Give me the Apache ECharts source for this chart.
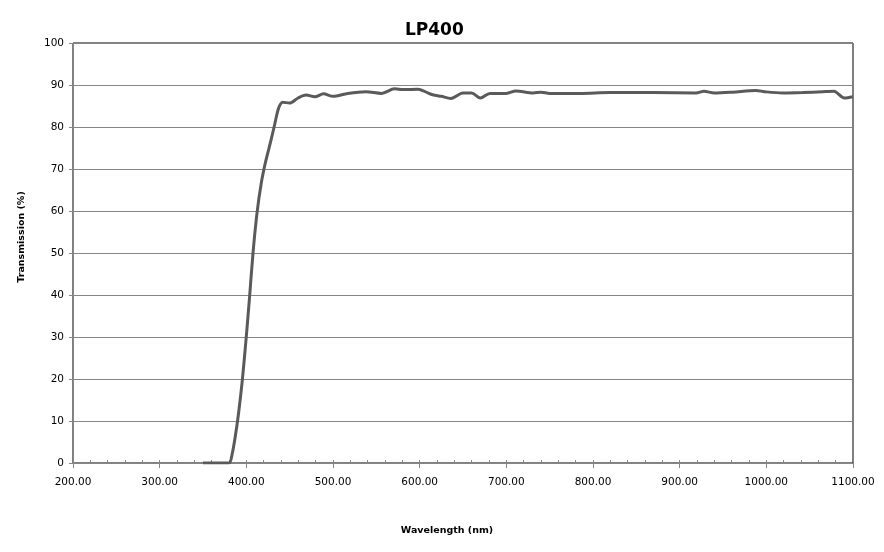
<!DOCTYPE html>
<html>
<head>
<meta charset="utf-8">
<script src="https://cdn.jsdelivr.net/npm/echarts@6/dist/echarts.min.js"></script>
<style>html,body{margin:0;padding:0;background:#fff;}#c{width:884px;height:552px;}</style>
</head>
<body>
<div id="c"></div>
<script>
const chartTitle = 'LP400';
const xAxisName = 'Wavelength (nm)';
const yAxisName = 'Transmission (%)';
const wavelength = [350,365,380,383.5,387,391,395.4,400,403.8,407.7,412.3,417.3,422.3,427.7,432.7,437.3,442,450,459.6,469,479,489,500,517,538,556,571,581,598,613,625,636,650,660,670,681,700,711,731,740,750,785,819,869,919,928,940,961,988,998,1019,1042,1065,1078,1090,1100];
const transmission = [0,0,0,2.0,6.0,11.8,19.8,30.2,39.7,50,59.5,66.7,71.8,76.2,80.6,84.5,85.9,85.7,86.9,87.6,87.2,87.9,87.3,88.0,88.4,88.0,89.1,88.9,89.0,87.8,87.3,86.8,88.1,88.1,86.9,88.0,88.0,88.6,88.1,88.3,88.0,88.0,88.2,88.2,88.1,88.5,88.1,88.3,88.7,88.4,88.1,88.2,88.4,88.5,86.9,87.2];

const points = wavelength.map((w, i) => [w, transmission[i]]);
const chart = echarts.init(document.getElementById('c'), null, {renderer: 'canvas'});
const font = 'DejaVu Sans';
chart.setOption({
  animation: false,
  title: {
    text: chartTitle, left: 400, top: 17,
    textStyle: {fontFamily: font, fontSize: 17, fontWeight: 'bold', color: '#000'}
  },
  grid: {left: 73, right: 31, top: 43, bottom: 89, show: true, borderColor: '#000', borderWidth: 1, backgroundColor: 'transparent'},
  xAxis: [{
    type: 'value', min: 200, max: 1100, interval: 100,
    axisLine: {show: true, onZero: false, lineStyle: {color: '#868686', width: 1}},
    axisTick: {show: true, length: 5, lineStyle: {color: '#868686'}},
    axisLabel: {margin: 14, fontFamily: font, fontSize: 10.5, color: '#000', formatter: v => v.toFixed(2)},
    splitLine: {show: false}
  }, {
    type: 'value', min: 200, max: 1100, interval: 20, position: 'bottom',
    axisLine: {show: false},
    axisTick: {show: true, inside: true, length: 3, lineStyle: {color: '#868686'}},
    axisLabel: {show: false},
    splitLine: {show: false}
  }],
  yAxis: {
    type: 'value', min: 0, max: 100, interval: 10,
    axisLine: {show: true, lineStyle: {color: '#868686', width: 1}},
    axisTick: {show: true, length: 4, lineStyle: {color: '#868686'}},
    axisLabel: {margin: 9, fontFamily: font, fontSize: 10.5, color: '#000'},
    splitLine: {show: true, lineStyle: {color: '#868686', width: 1}}
  },
  graphic: [
    {type: 'text', x: 447, y: 531, style: {text: xAxisName, font: 'bold 9.5px "DejaVu Sans"', fill: '#000', textAlign: 'center', textVerticalAlign: 'middle'}},
    {type: 'text', x: 22, y: 237, rotation: Math.PI / 2, style: {text: yAxisName, font: 'bold 9.5px "DejaVu Sans"', fill: '#000', textAlign: 'center', textVerticalAlign: 'middle'}}
  ],
  series: [{
    type: 'line', xAxisIndex: 0, data: points, showSymbol: false, smooth: 0.3,
    lineStyle: {color: '#5a5a5a', width: 3}
  }]
});
</script>
</body>
</html>
